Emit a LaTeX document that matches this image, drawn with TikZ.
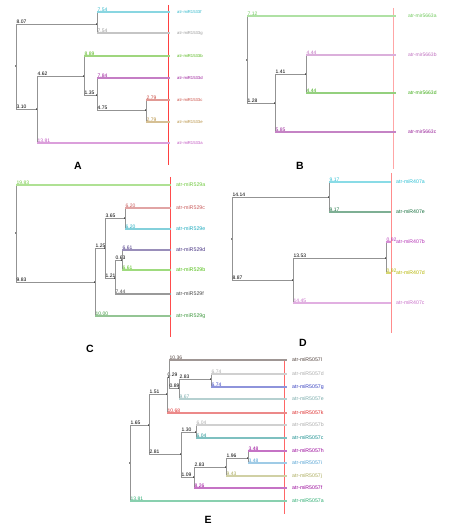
\documentclass[tikz,border=0pt]{standalone}
\usepackage{fontspec}
\setmainfont{Liberation Sans}
\usetikzlibrary{positioning}

% colours of the leaves
\definecolor{cyanA}{RGB}{40,180,200}
\definecolor{greyA}{RGB}{150,150,150}
\definecolor{greenA}{RGB}{80,180,20}
\definecolor{purpleA}{RGB}{150,20,150}
\definecolor{redA}{RGB}{200,70,60}
\definecolor{tanA}{RGB}{180,140,60}
\definecolor{violetA}{RGB}{190,80,190}
\definecolor{lgreenB}{RGB}{110,200,90}
\definecolor{pinkB}{RGB}{190,110,190}
\definecolor{greenB}{RGB}{60,170,20}
\definecolor{purpleB}{RGB}{150,30,150}
\definecolor{lgreenC}{RGB}{110,200,60}
\definecolor{redC}{RGB}{200,90,90}
\definecolor{cyanC}{RGB}{30,170,190}
\definecolor{navyC}{RGB}{70,50,130}
\definecolor{greenC}{RGB}{80,190,20}
\definecolor{dgreyC}{RGB}{70,70,70}
\definecolor{mgreenC}{RGB}{60,150,60}
\definecolor{cyanD}{RGB}{40,190,210}
\definecolor{dgreenD}{RGB}{20,110,60}
\definecolor{purpleD}{RGB}{180,50,180}
\definecolor{oliveD}{RGB}{180,180,0}
\definecolor{pinkD}{RGB}{200,110,200}
\definecolor{brownE}{RGB}{80,65,60}
\definecolor{lgreyE}{RGB}{170,170,170}
\definecolor{blueE}{RGB}{50,60,190}
\definecolor{tealE}{RGB}{120,170,170}
\definecolor{redE}{RGB}{220,40,40}
\definecolor{tealcE}{RGB}{20,140,140}
\definecolor{purpleE}{RGB}{150,0,150}
\definecolor{lblueE}{RGB}{80,160,210}
\definecolor{khakiE}{RGB}{170,170,90}
\definecolor{greenE}{RGB}{40,170,110}

% inner clade: parent, name, position, length
\newcommand\clade[4]{%
  \coordinate (#2) at #3;
  \draw[branch] (#1) |- (#2);
  \fill (#2) circle (0.8pt);
  \node[len] at (#1 |- #2) {#4};}
% leaf: parent, name, y, colour, length, label
\newcommand\tip[6]{%
  \coordinate (#2) at (\tipx,#3);
  \draw[branch] (#1) -- (#1 |- #2);
  \draw[twig = #4] (#1 |- #2) -- (#2);
  \node[len, text = #4] at (#1 |- #2) {#5};
  \node[leaflab, text = #4, right = \labgap of #2] (#2-l) {#6};}

\begin{document}
\begin{tikzpicture}[x = 1pt, y = -1pt,
        branch/.style = {draw = gray!85, line width = 0.8pt},
        twig/.style = {draw = #1!55, line width = 1.1pt},
        len/.style = {anchor = south west, inner sep = 0.4pt, font = \fontsize{5}{5}\selectfont},
        panel/.style = {font = \bfseries\fontsize{10.5}{10.5}\selectfont, inner sep = 0pt},
        cut/.style = {draw = #1, line width = 0.8pt}]
    \useasboundingbox (0, 0) rectangle (448, 529);

    % A
    \begin{scope}[leaflab/.style = {inner sep = 0pt, font = \fontsize{4.2}{5}\selectfont}]
        \def\tipx{170}\def\labgap{7pt}
        \coordinate (A-top) at (168, 5);
        \coordinate (A-bot) at (168, 165);
        \draw[cut = red!75] (A-top) -- (A-bot);
        \coordinate (A0) at (16, 66);
        \fill (A0) circle (0.8pt);
        \clade{A0}{A1}{(97, 24)}{8.07}
        \tip{A1}{Af}{12}{cyanA}{7.54}{atr-miR1533f}
        \tip{A1}{Ag}{33}{greyA}{7.54}{atr-miR1533g}
        \clade{A0}{A2}{(37, 109)}{3.10}
        \clade{A2}{A3}{(84, 76)}{4.62}
        \tip{A3}{Ab}{56}{greenA}{8.89}{atr-miR1533b}
        \clade{A3}{A4}{(97, 95)}{1.35}
        \tip{A4}{Ad}{78}{purpleA}{7.84}{atr-miR1533d}
        \clade{A4}{A5}{(146, 110)}{4.75}
        \tip{A5}{Ac}{100}{redA}{2.79}{atr-miR1533c}
        \tip{A5}{Ae}{122}{tanA}{2.79}{atr-miR1533e}
        \tip{A2}{Aa}{143}{violetA}{13.81}{atr-miR1533a}
        \node[panel] (A-name) at (78, 166) {A};
    \end{scope}

    % B
    \begin{scope}[leaflab/.style = {inner sep = 0pt, font = \fontsize{5}{5}\selectfont}]
        \def\tipx{396}\def\labgap{12pt}
        \coordinate (B-top) at (393, 8);
        \coordinate (B-bot) at (393, 169);
        \draw[cut = red!35] (B-top) -- (B-bot);
        \coordinate (B0) at (247, 60);
        \fill (B0) circle (0.8pt);
        \tip{B0}{Ba}{16}{lgreenB}{7.12}{atr-mir5663a}
        \clade{B0}{B1}{(275, 103)}{1.28}
        \clade{B1}{B2}{(306, 74)}{1.41}
        \tip{B2}{Bb}{55}{pinkB}{4.44}{atr-mir5663b}
        \tip{B2}{Bd}{93}{greenB}{4.44}{atr-mir5663d}
        \tip{B1}{Bc}{132}{purpleB}{5.85}{atr-mir5663c}
        \node[panel] (B-name) at (300, 166) {B};
    \end{scope}

    % C
    \begin{scope}[leaflab/.style = {inner sep = 0pt, font = \fontsize{5.3}{6}\selectfont}]
        \def\tipx{171}\def\labgap{5pt}
        \coordinate (C-top) at (170, 177);
        \coordinate (C-bot) at (170, 337);
        \draw[cut = red!70] (C-top) -- (C-bot);
        \coordinate (C0) at (16, 233);
        \fill (C0) circle (0.8pt);
        \tip{C0}{Ca}{185}{lgreenC}{19.83}{atr-miR529a}
        \clade{C0}{C1}{(95, 282)}{9.83}
        \clade{C1}{C2}{(105, 248)}{1.25}
        \clade{C2}{C3}{(125, 218)}{3.65}
        \tip{C3}{Cc}{208}{redC}{6.20}{atr-miR529c}
        \tip{C3}{Ce}{229}{cyanC}{6.20}{atr-miR529e}
        \clade{C2}{C4}{(115, 278)}{1.21}
        \clade{C4}{C5}{(122, 260)}{0.63}
        \tip{C5}{Cd}{250}{navyC}{6.61}{atr-miR529d}
        \tip{C5}{Cb}{270}{greenC}{6.61}{atr-miR529b}
        \tip{C4}{Cf}{294}{dgreyC}{7.44}{atr-miR529f}
        \tip{C1}{Cg}{316}{mgreenC}{10.00}{atr-miR529g}
        \node[panel] (C-name) at (90, 349) {C};
    \end{scope}

    % D
    \begin{scope}[leaflab/.style = {inner sep = 0pt, font = \fontsize{5.2}{6}\selectfont}]
        \def\tipx{391}\def\labgap{5pt}
        \coordinate (D-top) at (391, 173);
        \coordinate (D-bot) at (391, 333);
        \draw[cut = red!45] (D-top) -- (D-bot);
        \coordinate (D0) at (232, 239);
        \fill (D0) circle (0.8pt);
        \clade{D0}{D1}{(329, 197)}{14.14}
        \tip{D1}{Da}{182}{cyanD}{9.17}{atr-miR407a}
        \tip{D1}{De}{212}{dgreenD}{9.17}{atr-miR407e}
        \clade{D0}{D2}{(293, 280)}{8.87}
        \clade{D2}{D3}{(386, 258)}{13.53}
        \tip{D3}{Db}{242}{purpleD}{0.92}{atr-miR407b}
        \tip{D3}{Dd}{273}{oliveD}{0.92}{atr-miR407d}
        \tip{D2}{Dc}{303}{pinkD}{14.45}{atr-miR407c}
        \node[panel] (D-name) at (303, 343) {D};
    \end{scope}

    % E
    \begin{scope}[leaflab/.style = {inner sep = 0pt, font = \fontsize{5.2}{6}\selectfont}]
        \def\tipx{287}\def\labgap{5pt}
        \coordinate (E-top) at (284, 360);
        \coordinate (E-bot) at (284, 514);
        \draw[cut = red!60] (E-top) -- (E-bot);
        \coordinate (E0) at (130, 463);
        \fill (E0) circle (0.8pt);
        \clade{E0}{E1}{(149, 425)}{1.65}
        \clade{E1}{E2}{(167, 394)}{1.51}
        \clade{E2}{E3}{(169, 377)}{0.29}
        \tip{E3}{El}{360}{brownE}{10.36}{atr-miR5057l}
        \clade{E3}{E4}{(179, 388)}{0.89}
        \clade{E4}{E5}{(211, 379)}{2.83}
        \tip{E5}{Ed}{374}{lgreyE}{6.74}{atr-miR5057d}
        \tip{E5}{Eg}{387}{blueE}{6.74}{atr-miR5057g}
        \tip{E4}{Ee}{399}{tealE}{9.67}{atr-miR5057e}
        \tip{E2}{Ek}{413}{redE}{10.68}{atr-miR5057k}
        \clade{E1}{E6}{(181, 454)}{2.81}
        \clade{E6}{E7}{(196, 432)}{1.30}
        \tip{E7}{Eb}{425}{lgreyE}{6.04}{atr-miR5057b}
        \tip{E7}{Ec}{438}{tealcE}{6.04}{atr-miR5057c}
        \clade{E6}{E8}{(194, 477)}{1.09}
        \clade{E8}{E9}{(226, 467)}{2.83}
        \clade{E9}{E10}{(248, 458)}{1.96}
        \tip{E10}{Eh}{451}{purpleE}{3.48}{atr-miR5057h}
        \tip{E10}{Ei}{463}{lblueE}{3.48}{atr-miR5057i}
        \tip{E9}{Ej}{476}{khakiE}{9.43}{atr-miR5057j}
        \tip{E8}{Ef}{488}{purpleE}{8.26}{atr-miR5057f}
        \tip{E0}{Ea}{501}{greenE}{13.81}{atr-miR5057a}
        \node[panel] (E-name) at (208, 520) {E};
    \end{scope}
\end{tikzpicture}
\end{document}
